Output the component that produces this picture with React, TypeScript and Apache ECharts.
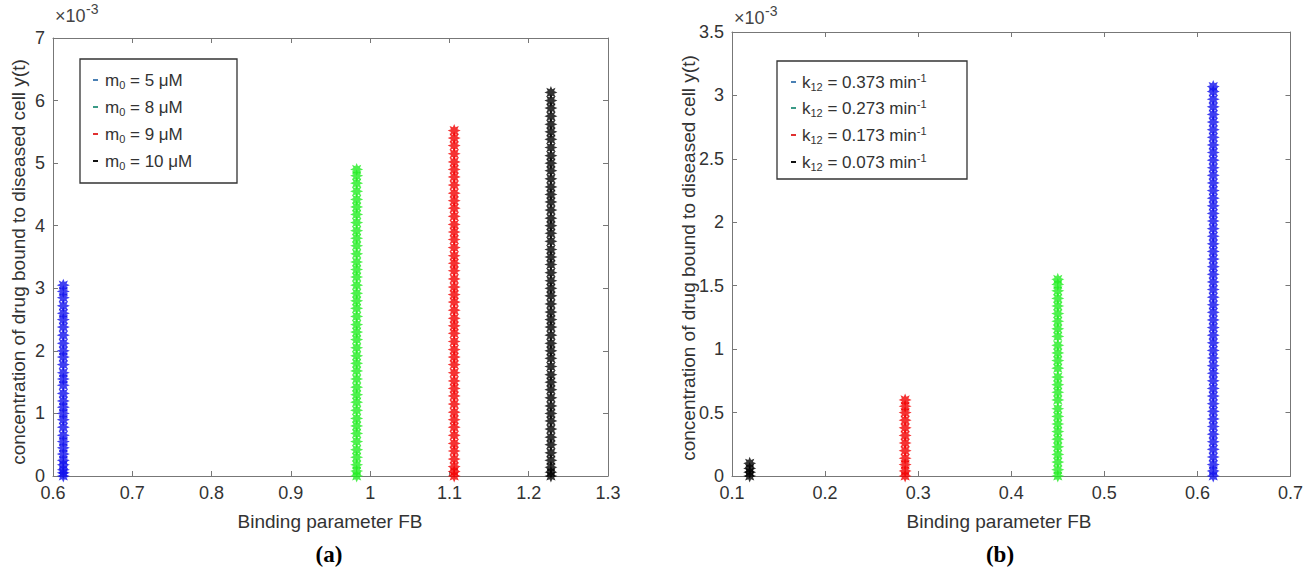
import React, { useEffect, useRef } from "react";
import * as echarts from "echarts";

// ---------- data (y values in units of 1e-3) ----------
const xTicksA = ["0.6", "0.7", "0.8", "0.9", "1", "1.1", "1.2", "1.3"];
const xTicksB = ["0.1", "0.2", "0.3", "0.4", "0.5", "0.6", "0.7"];

// Panel (a): binding parameter FB for each m0
const fbA = [0.613, 0.983, 1.106, 1.228];
const legendA = ["5", "8", "9", "10"];
const yA_m5 = [0, 0.05, 0.1, 0.18, 0.25, 0.35, 0.45, 0.55, 0.65, 0.78, 0.9, 1.0, 1.1, 1.2, 1.32, 1.45, 1.55, 1.65, 1.78, 1.9, 2.0, 2.12, 2.25, 2.38, 2.5, 2.6, 2.72, 2.85, 2.95, 3.05];
const yA_m8 = [0, 0.08, 0.18, 0.3, 0.42, 0.55, 0.68, 0.8, 0.92, 1.05, 1.18, 1.3, 1.42, 1.55, 1.68, 1.8, 1.92, 2.05, 2.18, 2.3, 2.42, 2.55, 2.68, 2.8, 2.92, 3.05, 3.18, 3.3, 3.42, 3.55, 3.68, 3.8, 3.92, 4.05, 4.18, 4.3, 4.42, 4.55, 4.68, 4.8, 4.9];
const yA_m9 = [0, 0.07, 0.15, 0.27, 0.4, 0.52, 0.65, 0.78, 0.9, 1.02, 1.15, 1.28, 1.4, 1.52, 1.65, 1.78, 1.9, 2.02, 2.15, 2.28, 2.4, 2.52, 2.65, 2.78, 2.9, 3.02, 3.15, 3.28, 3.4, 3.52, 3.65, 3.78, 3.9, 4.02, 4.15, 4.28, 4.4, 4.52, 4.65, 4.78, 4.9, 5.02, 5.15, 5.28, 5.4, 5.52];
const yA_m10 = [0, 0.06, 0.14, 0.25, 0.37, 0.5, 0.62, 0.75, 0.88, 1.0, 1.12, 1.25, 1.38, 1.5, 1.62, 1.75, 1.88, 2.0, 2.12, 2.25, 2.38, 2.5, 2.62, 2.75, 2.88, 3.0, 3.12, 3.25, 3.38, 3.5, 3.62, 3.75, 3.88, 4.0, 4.12, 4.25, 4.38, 4.5, 4.62, 4.75, 4.88, 5.0, 5.12, 5.25, 5.38, 5.5, 5.62, 5.75, 5.88, 6.0, 6.13];

// Panel (b): binding parameter FB for each k12
const fbB = [0.617, 0.45, 0.286, 0.119];
const legendB = ["0.373", "0.273", "0.173", "0.073"];
const yB_k373 = [0, 0.04, 0.09, 0.15, 0.21, 0.27, 0.33, 0.39, 0.45, 0.51, 0.57, 0.63, 0.69, 0.75, 0.81, 0.87, 0.93, 0.99, 1.05, 1.11, 1.17, 1.23, 1.29, 1.35, 1.41, 1.47, 1.53, 1.59, 1.65, 1.71, 1.77, 1.83, 1.89, 1.95, 2.01, 2.07, 2.13, 2.19, 2.25, 2.31, 2.37, 2.43, 2.49, 2.55, 2.61, 2.67, 2.73, 2.79, 2.85, 2.91, 2.97, 3.03, 3.07];
const yB_k273 = [0, 0.05, 0.11, 0.17, 0.23, 0.29, 0.35, 0.41, 0.47, 0.53, 0.6, 0.66, 0.72, 0.78, 0.85, 0.91, 0.97, 1.03, 1.1, 1.16, 1.22, 1.28, 1.34, 1.4, 1.46, 1.51, 1.55];
const yB_k173 = [0, 0.04, 0.09, 0.14, 0.2, 0.26, 0.32, 0.38, 0.44, 0.5, 0.55, 0.6];
const yB_k073 = [0, 0.03, 0.06, 0.1];

const colorsA = ["#1010ee", "#22ee22", "#f20000", "#000000"];
const colorsB = ["#1010ee", "#22ee22", "#f20000", "#000000"];
const legendDash = ["#4a80b4", "#3a9a86", "#e03030", "#111111"];

const FONT = "'Liberation Sans', Arial, sans-serif";

function asteriskPath(): string {
  let d = "";
  for (let i = 0; i < 16; i++) {
    const a = (i * Math.PI) / 8 - Math.PI / 2;
    const r = i % 2 === 0 ? 10 : 5.4;
    d += (i === 0 ? "M" : "L") + (r * Math.cos(a)).toFixed(2) + " " + (r * Math.sin(a)).toFixed(2) + " ";
  }
  return "path://" + d + "Z";
}

export default function App() {
  const ref = useRef<HTMLDivElement>(null);

  useEffect(() => {
    document.body.style.margin = "0";
    if (!ref.current) return;
    const chart = echarts.init(ref.current, null, { renderer: "svg" });
    const sym = asteriskPath();

    const axisLineStyle = { lineStyle: { color: "#777", width: 1 } };
    const tickStyle = { show: true, inside: true, length: 5, lineStyle: { color: "#777" } };
    const labelStyle = { color: "#333", fontSize: 18, fontFamily: FONT, margin: 8 };

    const mkX = (grid: number, min: number, max: number, pos: "bottom" | "top", labels: boolean) => ({
      type: "value",
      gridIndex: grid,
      position: pos,
      min,
      max,
      interval: 0.1,
      axisLine: { show: true, onZero: false, ...axisLineStyle },
      axisTick: tickStyle,
      axisLabel: labels ? labelStyle : { show: false },
      splitLine: { show: false },
    });
    const mkY = (grid: number, max: number, interval: number, pos: "left" | "right", labels: boolean) => ({
      type: "value",
      gridIndex: grid,
      position: pos,
      min: 0,
      max,
      interval,
      axisLine: { show: true, onZero: false, ...axisLineStyle },
      axisTick: tickStyle,
      axisLabel: labels ? labelStyle : { show: false },
      splitLine: { show: false },
    });

    const seriesA = [yA_m5, yA_m8, yA_m9, yA_m10].map((vals, i) => ({
      type: "scatter",
      xAxisIndex: 0,
      yAxisIndex: 0,
      clip: false,
      symbol: sym,
      symbolSize: 13,
      itemStyle: { color: colorsA[i] },
      data: vals.map((v) => [fbA[i], v]),
    }));
    const seriesB = [yB_k373, yB_k273, yB_k173, yB_k073].map((vals, i) => ({
      type: "scatter",
      xAxisIndex: 2,
      yAxisIndex: 2,
      clip: false,
      symbol: sym,
      symbolSize: 13,
      itemStyle: { color: colorsB[i] },
      data: vals.map((v) => [fbB[i], v]),
    }));

    const txt = (x: number, y: number, text: string, extra: any = {}) => ({
      type: "text",
      x,
      y,
      style: { text, fill: "#333", font: `19px ${FONT}`, align: "center", verticalAlign: "middle", ...extra },
    });

    const legendRich = {
      t: { fontSize: 17, fontFamily: FONT, fill: "#333", lineHeight: 20 },
      s: { fontSize: 11, fontFamily: FONT, fill: "#333", lineHeight: 12, verticalAlign: "bottom" },
      p: { fontSize: 11, fontFamily: FONT, fill: "#333", lineHeight: 12, verticalAlign: "top" },
    };

    const legendA_y = [80, 107, 134, 161];
    const legendB_y = [82, 108, 135, 162];

    const legendAGraphics: any[] = [
      { type: "rect", shape: { x: 80, y: 59, width: 157, height: 124 }, style: { fill: "#fff", stroke: "#333", lineWidth: 1.3 }, z: 10 },
    ];
    legendA.forEach((m, i) => {
      legendAGraphics.push({ type: "rect", shape: { x: 93, y: legendA_y[i] - 1, width: 5, height: 2 }, style: { fill: legendDash[i] }, z: 11 });
      legendAGraphics.push({
        type: "text",
        x: 105,
        y: legendA_y[i],
        z: 11,
        style: { text: `{t|m}{s|0}{t| = ${m} μM}`, rich: legendRich, verticalAlign: "middle", align: "left" },
      });
    });

    const legendBGraphics: any[] = [
      { type: "rect", shape: { x: 777, y: 61, width: 190, height: 118 }, style: { fill: "#fff", stroke: "#333", lineWidth: 1.3 }, z: 10 },
    ];
    legendB.forEach((k, i) => {
      legendBGraphics.push({ type: "rect", shape: { x: 791, y: legendB_y[i] - 1, width: 5, height: 2 }, style: { fill: legendDash[i] }, z: 11 });
      legendBGraphics.push({
        type: "text",
        x: 802,
        y: legendB_y[i],
        z: 11,
        style: { text: `{t|k}{s|12}{t| = ${k} min}{p|-1}`, rich: legendRich, verticalAlign: "middle", align: "left" },
      });
    });

    const expText = (x: number, y: number) => [
      { type: "text", x, y, style: { text: "×10", fill: "#444", font: `18px ${FONT}`, align: "left", verticalAlign: "middle" } },
      { type: "text", x: x + 31, y: y - 7, style: { text: "-3", fill: "#444", font: `14px ${FONT}`, align: "left", verticalAlign: "middle" } },
    ];

    const option: any = {
      animation: false,
      backgroundColor: "#ffffff",
      grid: [
        { left: 53, top: 38, width: 555, height: 438 },
        { left: 732, top: 32, width: 561, height: 444 },
      ],
      xAxis: [
        { ...mkX(0, 0.6, 1.3, "bottom", true), axisLabel: { ...labelStyle, formatter: (v: number) => xTicksA[Math.round((v - 0.6) * 10)] ?? "" } },
        mkX(0, 0.6, 1.3, "top", false),
        { ...mkX(1, 0.1, 0.7, "bottom", true), axisLabel: { ...labelStyle, formatter: (v: number) => xTicksB[Math.round((v - 0.1) * 10)] ?? "" } },
        mkX(1, 0.1, 0.7, "top", false),
      ],
      yAxis: [
        mkY(0, 7, 1, "left", true),
        mkY(0, 7, 1, "right", false),
        mkY(1, 3.5, 0.5, "left", true),
        mkY(1, 3.5, 0.5, "right", false),
      ],
      series: [...seriesA, ...seriesB],
      graphic: [
        // axis names
        txt(330, 521, "Binding parameter FB"),
        txt(999, 521, "Binding parameter FB"),
        { ...txt(18, 262, "concentration of drug bound to diseased cell y(t)"), rotation: Math.PI / 2 },
        { ...txt(688, 258, "concentration of drug bound to diseased cell y(t)"), rotation: Math.PI / 2 },
        // panel labels
        txt(329, 554, "(a)", { fill: "#000", font: "bold 23px 'Liberation Serif', 'Times New Roman', serif" }),
        txt(1000, 554, "(b)", { fill: "#000", font: "bold 23px 'Liberation Serif', 'Times New Roman', serif" }),
        // exponent labels
        ...expText(55, 16),
        ...expText(734, 18),
        ...legendAGraphics,
        ...legendBGraphics,
      ],
    };

    chart.setOption(option);
    return () => chart.dispose();
  }, []);

  return <div ref={ref} style={{ width: 1306, height: 568 }} />;
}
